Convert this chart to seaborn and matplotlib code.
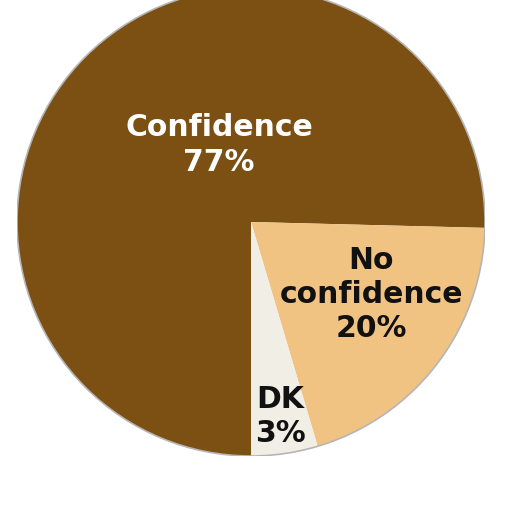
import matplotlib
matplotlib.use("Agg")
import matplotlib.pyplot as plt
import seaborn as sns

# =========================
# DATA
# =========================
categories = ["Confidence", "No\nconfidence", "DK"]
# slice shares as drawn in the picture
shares = [75.4, 20.0, 4.6]
# percentages as printed on the chart
pct_labels = ["77%", "20%", "3%"]

colors = ["#7b5012", "#f0c383", "#f1eee6"]
text_colors = ["white", "#111111", "#111111"]
label_pos = [(-0.137, 0.329), (0.513, -0.308), (0.124, -0.833)]

# =========================
# PLOT
# =========================
sns.set_theme(style="white")
plt.rcParams["font.family"] = ["DejaVu Sans"]

fig = plt.figure(figsize=(5.12, 5.12), dpi=100)

cx, cy, r = 251 / 512, (512 - 222) / 512, 234 / 512
ax = fig.add_axes([cx - r, cy - r, 2 * r, 2 * r])

ax.pie(
    shares,
    colors=sns.color_palette(colors),
    startangle=270,
    counterclock=False,
    radius=1,
    wedgeprops={"linewidth": 0},
)
ax.add_patch(plt.Circle((0, 0), 1, fill=False, edgecolor="#b5b5b5", linewidth=1.2))

for cat, pct, col, (x, y) in zip(categories, pct_labels, text_colors, label_pos):
    ax.text(x, y, f"{cat}\n{pct}", ha="center", va="center",
            fontsize=21.5, fontweight="bold", color=col, linespacing=1.22)

ax.set_xlim(-1, 1)
ax.set_ylim(-1, 1)
ax.set_aspect("equal")
ax.axis("off")

plt.savefig("out.png", dpi=100)
